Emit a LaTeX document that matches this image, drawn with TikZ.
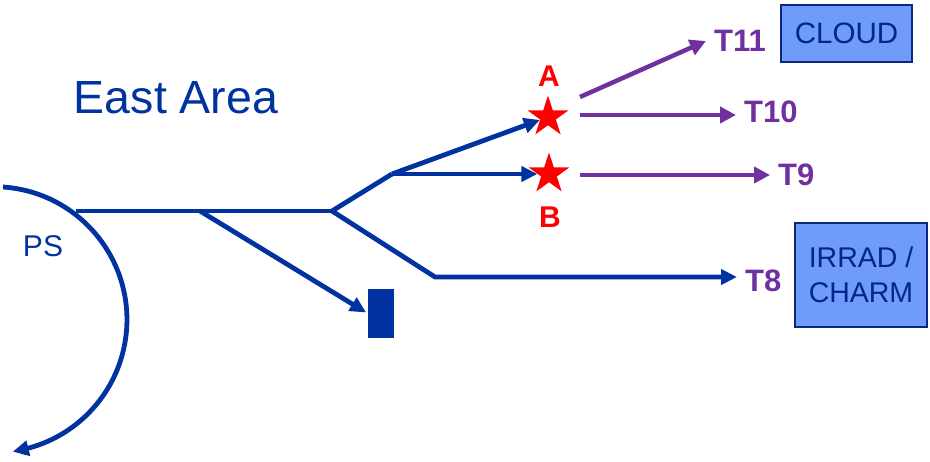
\documentclass[tikz,border=0pt]{standalone}
\usepackage{fontspec}
\setmainfont{Liberation Sans}
\usetikzlibrary{arrows.meta,shapes.geometric,bending}

\definecolor{beamblue}{RGB}{0,51,160}
\definecolor{linepurple}{RGB}{112,48,160}
\definecolor{boxfill}{RGB}{111,155,250}
\definecolor{boxline}{RGB}{10,40,130}
\definecolor{boxtext}{RGB}{0,40,140}

\tikzset{
  beam/.style={draw=beamblue, line width=4.8pt},
  beamarrow/.style={beam, -{Triangle[length=16pt,width=15pt]}},
  extarrow/.style={draw=linepurple, line width=4.5pt, -{Triangle[length=16pt,width=16pt]}},
  lineref/.style={text=linepurple, font=\fontsize{31}{31}\selectfont\bfseries, anchor=west, inner xsep=8pt, inner ysep=0pt},
  starmark/.style={star, star points=5, star point ratio=2.618, minimum size=43pt, inner sep=0pt, fill=red},
  starlabel/.style={text=red, font=\fontsize{30}{30}\selectfont\bfseries, inner sep=0pt},
  areabox/.style={draw=boxline, line width=2.5pt, fill=boxfill, text=boxtext, align=center, inner sep=0pt},
}

\begin{document}
\begin{tikzpicture}[x=1pt, y=1pt]
  \path[use as bounding box] (0,0) rectangle (930,-462);

  % headings
  \node[text=beamblue, font=\fontsize{46.5}{46.5}\selectfont, inner sep=0pt] (title) at (176,-97.5) {East Area};
  \node[text=beamblue, font=\fontsize{30}{30}\selectfont, inner sep=0pt] (ps) at (43,-246.5) {PS};

  % PS ring, extraction arc
  \coordinate (ringtop) at (3,-187);
  \draw[beam, -{Triangle[length=16pt,width=15pt,bend]}] (ringtop) arc[start angle=86.1, end angle=-81.9, radius=133];

  % beam line junctions
  \coordinate (ext) at (76,-211);
  \coordinate (j1) at (200,-211);
  \coordinate (j2) at (332,-211);
  \coordinate (k1) at (392,-174);
  \coordinate (k2) at (435,-277);

  % beam dump
  \node[fill=beamblue, minimum width=26pt, minimum height=49pt, inner sep=0pt] (dump) at (381,-313.5) {};

  % targets
  \node[starmark] (starA) at (548,-117) {};
  \node[starmark] (starB) at (549,-174) {};
  \node[starlabel] (labA) at (549,-76) {A};
  \node[starlabel] (labB) at (550,-217) {B};

  % experimental lines
  \node[lineref] (t11) at (706,-41) {T11};
  \node[lineref] (t10) at (736,-111.5) {T10};
  \node[lineref] (t9) at (770,-175) {T9};
  \node[lineref] (t8) at (737,-281) {T8};

  % facilities
  \node[areabox, minimum width=131pt, minimum height=57pt, font=\fontsize{29.5}{29.5}\selectfont] (cloud) at (846.5,-33.5) {CLOUD};
  \node[areabox, minimum width=132pt, minimum height=104pt, font=\fontsize{28.5}{35}\selectfont] (irrad) at (861,-275) {IRRAD /\\CHARM};

  % beam lines
  \draw[beam] (ext) -- (j1) -- (j2);
  \draw[beamarrow, shorten >=2pt] (j1) -- (dump.west);
  \draw[beam] (j2) -- (k1);
  \draw[beamarrow] (k1) -- (starB);
  \draw[beamarrow] (k1) -- (starA);
  \draw[beamarrow] (j2) -- (k2) -- (k2 -| t8.west);

  % secondary lines from the targets
  \coordinate (a11) at (580,-97);
  \coordinate (a10) at (580,-115);
  \coordinate (a9) at (580,-175);
  \draw[extarrow] (a11) -- (t11.west);
  \draw[extarrow] (a10) -- (a10 -| t10.west);
  \draw[extarrow] (a9) -- (a9 -| t9.west);
\end{tikzpicture}
\end{document}
